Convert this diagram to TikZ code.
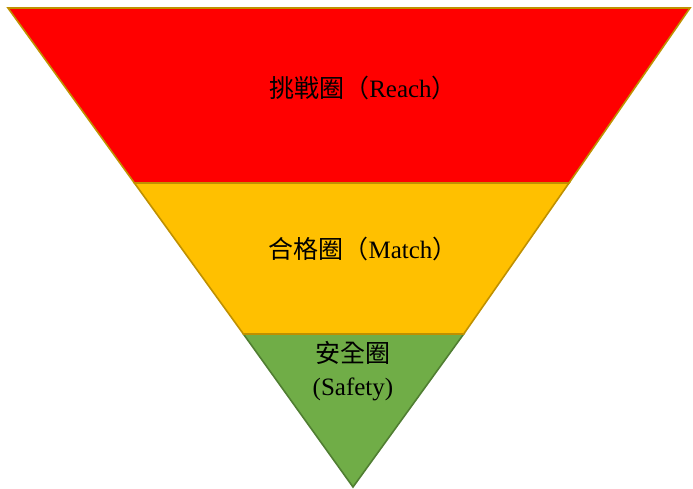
\documentclass[tikz,border=0pt]{standalone}
\usepackage{fontspec}
\setmainfont{Liberation Serif}
\newfontfamily\cjk{Noto Sans CJK TC}[FakeStretch=1.0]
\definecolor{bandred}{HTML}{FF0000}
\definecolor{bandyellow}{HTML}{FFC000}
\definecolor{bandgreen}{HTML}{70AD47}
\definecolor{edgegold}{HTML}{BF9000}
\definecolor{edgegreen}{HTML}{507E32}
\tikzset{
  band/.style={line width=1.6pt, line join=miter},
  lbl/.style={font=\fontsize{25}{30}\selectfont, text=black, align=center, inner sep=0pt}
}
\begin{document}
\begin{tikzpicture}[x=1pt,y=-1pt]
\useasboundingbox (0,0) rectangle (693,488);
\path[band, fill=bandgreen, draw=edgegreen] (243.4,334) -- (463.7,334) -- (353,487) -- cycle;
\path[band, fill=bandyellow, draw=edgegold] (134.4,183) -- (569.0,183) -- (463.7,334) -- (243.4,334) -- cycle;
\path[band, fill=bandred, draw=edgegold] (8,8) -- (690,8) -- (569.0,183) -- (134.4,183) -- cycle;
\node[lbl] (reach) at (363,88) {{\cjk 挑戦圈（}Reach{\cjk ）}};
\node[lbl] (match) at (363,249) {{\cjk 合格圈（}Match{\cjk ）}};
\node[lbl] (safety) at (353,371) {{\cjk 安全圈}\\[3pt](Safety)};
\end{tikzpicture}
\end{document}
